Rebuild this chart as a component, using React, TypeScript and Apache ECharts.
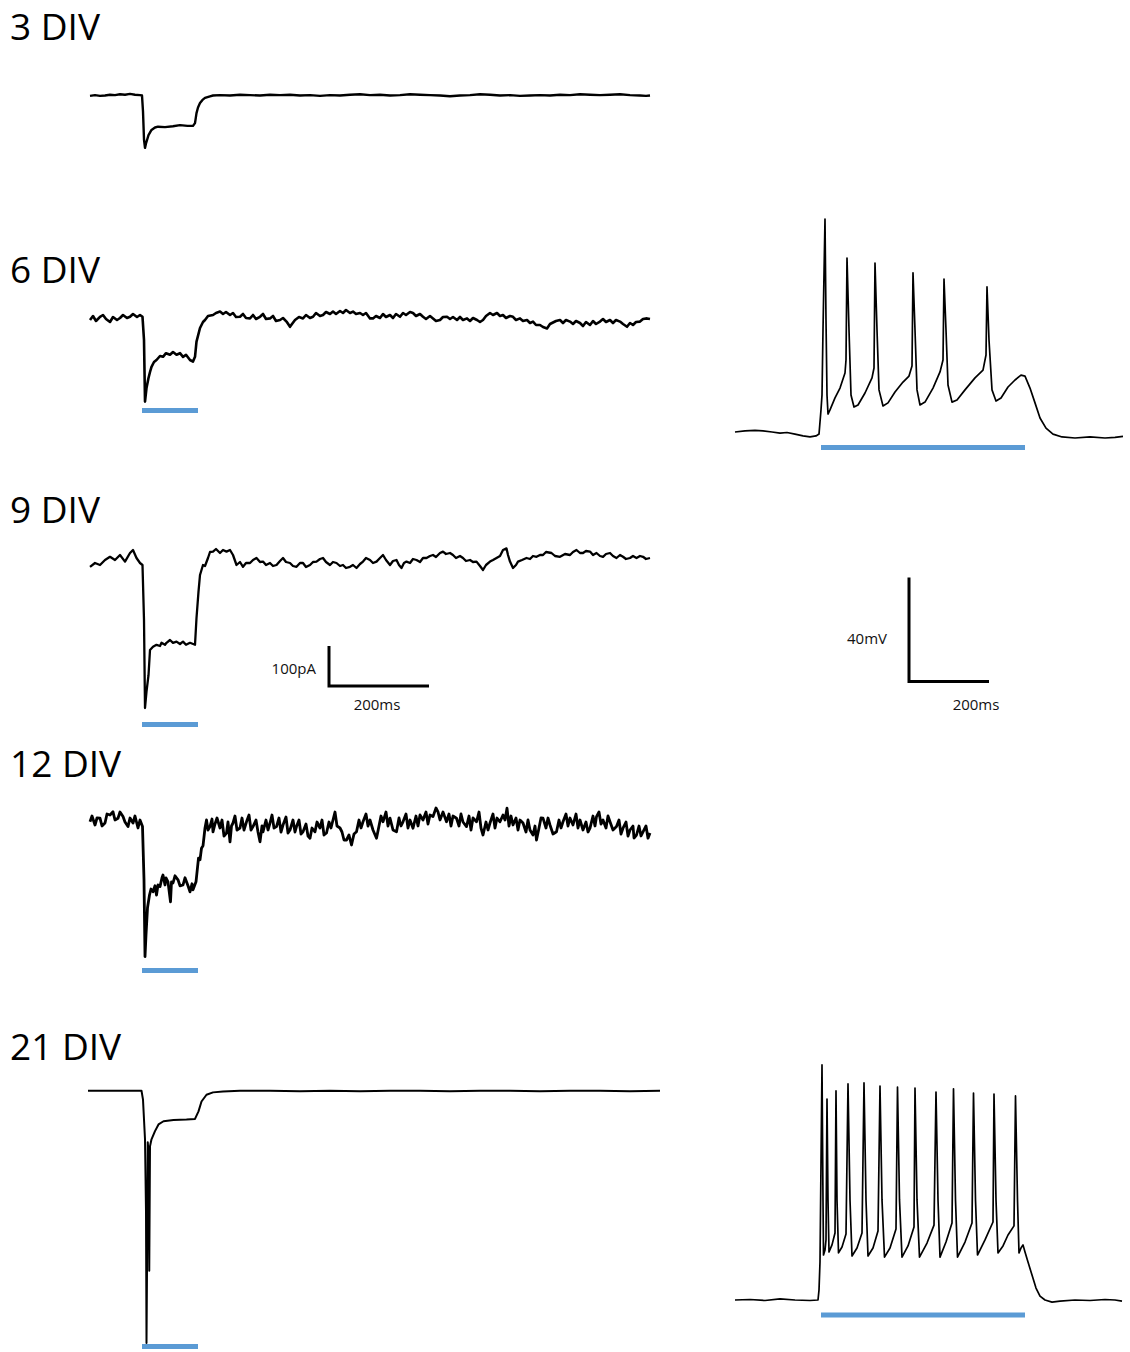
import React, { useEffect, useRef } from "react";
import * as echarts from "echarts";

// ---------- labels ----------
const divLabels = ["3 DIV", "6 DIV", "9 DIV", "12 DIV", "21 DIV"];
const currentScaleLabels = ["100pA", "200ms"];
const voltageScaleLabels = ["40mV", "200ms"];

// ---------- whole-cell currents: [time ms, current pA] ----------
const trace3DIV: number[][] = [
  [0, -1], [10, 1], [20, -1], [30, 0], [40, 2], [50, 1], [60, 3], [70, 2], [80, 4], [90, 2], [100, 1], [104, 0],
  [106, -40], [108, -110], [110, -131], [112, -120], [117, -99], [123, -86], [130, -80], [136, -78], [150, -79],
  [166, -77], [180, -74], [195, -76], [206, -76], [210, -69], [213, -44], [216, -30], [220, -19], [225, -11],
  [230, -6], [240, -2], [246, 0], [260, 1], [280, 0], [300, 2], [320, 1], [340, 0], [360, 2], [380, 1], [400, 2],
  [420, 0], [440, 1], [460, -1], [480, 1], [500, 0], [520, 2], [540, 3], [560, 1], [580, 2], [600, 0], [620, 1],
  [640, 3], [660, 2], [680, 1], [700, 0], [720, -2], [740, 0], [760, 1], [780, 3], [800, 2], [820, 0], [840, 1],
  [860, -1], [880, 0], [900, 1], [920, 0], [940, 2], [960, 1], [980, 3], [1000, 2], [1020, 1], [1040, 2],
  [1060, 3], [1080, 1], [1100, 0], [1112, -1], [1120, 0],
];

const trace6DIV: number[][] = [
  [0, -5], [6, 5], [12, -7.5], [20, 3], [26, 7.5], [32, -2.5], [40, -10], [46, 2.5], [54, -5], [60, 0], [66, 7.5],
  [74, 0], [80, 3], [86, 10], [94, 2.5], [100, 7.5], [105, 3],
  [108, -55], [110, -209], [113, -175], [117, -150], [120, -135], [123, -122], [128, -110], [133, -105],
  [140, -95], [146, -97], [152, -88], [160, -92], [166, -85], [173, -92], [180, -88], [186, -97], [192, -92],
  [200, -105], [206, -109], [210, -97], [213, -59], [220, -25], [226, -10], [230, -5], [236, 5], [246, 7.5],
  [252, 12.5], [260, 16], [266, 10], [272, 15], [280, 7.5], [286, 12.5], [292, 2.5], [300, 3], [306, 10],
  [312, 0], [320, -1], [326, 7.5], [332, -2.5], [340, 3], [346, 10], [352, -2.5], [360, -1], [366, 5],
  [372, -7.5], [380, -5], [386, 0], [393, -9], [400, -22], [404, -15], [410, -5], [418, 2.5], [426, -1],
  [432, 7.5], [440, 0], [446, 3], [452, 12.5], [460, 5], [466, 7.5], [472, 15], [480, 10], [486, 16], [492, 10],
  [500, 17.5], [506, 12.5], [512, 20], [520, 12.5], [526, 16], [532, 10], [540, 12.5], [546, 7.5], [552, 12.5],
  [560, -1], [566, -1], [572, 5], [580, 0], [586, 10], [592, 2.5], [600, 7.5], [606, 0], [612, 10], [620, 3],
  [626, 12.5], [632, 7.5], [640, 15], [646, 12.5], [652, 5], [660, 10], [666, 3], [672, -2.5], [680, 5],
  [686, -1], [692, -7.5], [700, -5], [706, 2.5], [714, 3], [720, -2.5], [726, 2.5], [734, -5], [740, 2.5],
  [746, -5], [754, -1], [760, -7.5], [766, 0], [774, -5], [780, -10], [786, -5], [792, 5], [800, 12.5],
  [806, 7.5], [814, 12.5], [820, 5], [826, 7.5], [832, 0], [840, 5], [846, 3], [852, -5], [860, -1], [866, -7.5],
  [874, -5], [880, -12.5], [886, -9], [892, -17.5], [900, -17.5], [906, -22.5], [914, -26], [920, -15],
  [924, -12.5], [932, -7.5], [940, -5], [946, -12.5], [952, -5], [960, -9], [966, -15], [972, -7.5],
  [980, -12.5], [986, -20], [992, -10], [1000, -17.5], [1006, -7.5], [1012, -15], [1020, -9], [1026, -2.5],
  [1032, -10], [1040, -5], [1046, -12.5], [1052, -5], [1060, -9], [1066, -15], [1074, -22], [1080, -12.5],
  [1086, -17.5], [1092, -10], [1100, -9], [1106, -2.5], [1114, -1], [1120, -2.5],
];

const trace9DIV: number[][] = [
  [0, -17], [10, -7.5], [20, -12.5], [30, 0], [40, 8], [50, 0], [60, 12.5], [70, -4], [80, 17.5], [86, 25],
  [93, 5], [100, -7.5], [105, -12.5],
  [108, -150], [110, -370], [113, -329], [117, -288], [120, -225], [126, -217], [133, -212], [140, -215],
  [143, -207], [150, -212], [153, -207], [160, -200], [166, -207], [173, -204], [180, -210], [186, -204],
  [192, -212], [200, -207], [210, -212], [213, -145], [217, -79], [220, -37.5], [226, -12.5], [230, -15],
  [236, 5], [240, 20], [246, 21], [252, 27.5], [260, 17.5], [266, 25], [273, 21], [280, 25], [286, 12.5],
  [293, -12.5], [300, -5], [306, -17], [312, -7.5], [320, -7.5], [326, 0], [333, 5], [340, -5], [346, -4],
  [352, -12.5], [360, -7.5], [366, -15], [373, -12.5], [380, -2.5], [386, 5], [392, -5], [400, -7.5],
  [406, -15], [413, -17], [420, -7.5], [426, -7.5], [432, -17.5], [440, -12.5], [446, -5], [453, -4],
  [460, 2.5], [466, 5], [472, -5], [480, -12.5], [486, -5], [493, -7.5], [500, -15], [506, -12.5], [512, -20],
  [520, -17], [526, -12.5], [533, -20], [540, -10], [546, -4], [552, 5], [560, 0], [566, -7.5], [573, -4],
  [580, 5], [586, 12.5], [592, 0], [600, -12.5], [606, -2.5], [613, 0], [618, -12.5], [623, -20], [628, -7.5],
  [633, -4], [640, -7.5], [646, 2.5], [653, 0], [660, -5], [666, 5], [673, 5], [680, 10], [686, 12.5],
  [692, 7.5], [700, 17.5], [706, 21], [712, 15], [720, 17.5], [726, 12.5], [732, 5], [740, 10], [746, 5],
  [752, -2.5], [760, 0], [766, -5], [773, -4], [780, -15], [786, -25], [792, -12.5], [800, -4], [806, 0],
  [813, 5], [820, 10], [826, 25], [833, 29], [836, 12.5], [840, -4], [846, -20], [852, -12.5], [856, -4],
  [864, 0], [873, 5], [880, 2.5], [886, 10], [893, 8], [900, 12.5], [906, 12.5], [912, 20], [923, 17.5],
  [930, 10], [940, 8], [950, 15], [960, 12.5], [966, 20], [973, 25], [980, 17.5], [986, 17.5], [992, 22.5],
  [1000, 21], [1006, 12.5], [1013, 17.5], [1020, 10], [1026, 8], [1032, 15], [1040, 17.5], [1046, 10],
  [1053, 5], [1060, 12.5], [1066, 8], [1072, 2.5], [1080, 5], [1086, 10], [1093, 5], [1100, 10], [1106, 8],
  [1112, 2.5], [1120, 5],
];

const trace12DIV: number[][] = [
  [0, 3], [4, 17.5], [10, -5], [14, 12.5], [20, 12], [24, -7.5], [30, 0], [34, 22.5], [40, 20], [46, 28],
  [50, 7.5], [56, 12], [60, 27.5], [66, 16], [70, 2.5], [76, -9], [80, 12.5], [86, 0], [90, 17.5], [96, -12.5],
  [100, 7.5], [105, -9],
  [108, -142], [110, -334], [112, -280], [115, -212], [119, -180], [122, -165], [126, -172], [130, -157],
  [133, -180], [136, -155], [140, -159], [144, -137], [146, -130], [150, -155], [152, -137], [156, -147],
  [161, -197], [163, -147], [166, -150], [170, -132], [176, -142], [180, -157], [186, -155], [190, -137],
  [193, -147], [196, -157], [200, -172], [204, -152], [206, -167], [209, -157], [212, -147], [217, -88],
  [220, -92], [223, -63], [226, -57], [230, -12.5], [233, 7.5], [236, -17.5], [240, -9], [244, 10], [246, -22],
  [250, -2.5], [254, 12.5], [260, -12.5], [264, 7.5], [268, -32.5], [273, -25], [276, 2.5], [280, -47],
  [283, -7.5], [286, 0], [290, 17.5], [294, -17.5], [300, -12.5], [304, 12.5], [308, -17.5], [313, 3],
  [318, 20], [322, -17.5], [326, -9], [332, 7.5], [336, -22.5], [340, -47], [344, -7.5], [346, -22],
  [352, 7.5], [356, -17.5], [360, 0], [364, 20], [368, -12.5], [373, -9], [378, 12.5], [382, -22.5], [386, -5],
  [392, 15], [396, -25], [400, -17.5], [406, 7.5], [410, -22.5], [413, -9], [418, 7.5], [422, -27.5],
  [426, -22], [432, -2.5], [436, -32.5], [440, -38], [444, -12.5], [450, -22], [454, 2.5], [460, -12.5],
  [464, 7.5], [468, -30], [473, -25], [478, 2.5], [482, -12.5], [486, 7.5], [490, 27.5], [494, -7.5],
  [500, -12.5], [504, -22.5], [508, -42.5], [513, -42.5], [518, -30], [523, -55], [528, -27.5], [533, -22],
  [538, 7.5], [542, -12.5], [546, 3], [552, 22.5], [556, -7.5], [560, 7.5], [566, -17.5], [573, -38],
  [578, -7.5], [582, 17.5], [586, 3], [592, 27.5], [596, -7.5], [600, 12], [606, -17.5], [613, -22],
  [618, 12.5], [622, -7.5], [626, 3], [632, 22.5], [636, -12.5], [640, 7.5], [646, -13], [652, 17.5],
  [656, -7.5], [660, 20], [666, 7.5], [672, 27.5], [676, -2.5], [680, 20], [686, 16], [692, 37.5], [696, 28],
  [700, 7.5], [706, 27.5], [713, 3], [718, 22.5], [722, -7.5], [726, 17.5], [733, 12], [738, -7.5],
  [742, 22.5], [746, 2.5], [753, -9], [758, 17.5], [762, -17.5], [766, 12.5], [773, 3], [778, 27.5],
  [782, -12.5], [786, -30], [792, 2.5], [796, -17.5], [800, 0], [806, 22.5], [810, -12.5], [814, 12.5],
  [820, 3], [826, 20], [830, 7.5], [834, 37], [838, -7.5], [842, 17.5], [846, -5], [852, 12.5], [856, -17.5],
  [860, 7.5], [866, 0], [872, -22.5], [876, 7.5], [880, -17.5], [886, -30], [890, -7.5], [893, -42.5],
  [898, -12.5], [902, 12.5], [906, 12], [912, -12.5], [916, 12.5], [920, -5], [926, -27.5], [933, -22],
  [938, 7.5], [942, -12.5], [946, 3], [952, 22.5], [956, -7.5], [960, 12.5], [966, -5], [972, 22.5],
  [976, -12.5], [980, 7.5], [986, -17.5], [992, 2.5], [996, -22.5], [1000, -13], [1006, 17.5], [1010, -7.5],
  [1013, 16], [1018, 27.5], [1022, -2.5], [1026, 7.5], [1032, -12.5], [1036, 17.5], [1040, 3], [1046, -17.5],
  [1053, -9], [1058, 7.5], [1062, -27.5], [1066, -13], [1072, 2.5], [1076, -32.5], [1080, -17.5], [1086, -7.5],
  [1088, -37.5], [1093, -30], [1098, -7.5], [1102, -32.5], [1106, -22], [1112, -7.5], [1116, -38], [1120, -25],
];

const trace21DIV: number[][] = [
  [-4, 0], [20, 0], [60, 0], [103, 0], [106, -22.5], [110, -122.5], [112, -305], [113, -637], [115, -272],
  [115.5, -130], [117.5, -165], [118.5, -455], [120, -140], [123, -122.5], [130, -102], [137, -85], [147, -77],
  [167, -74], [193, -72.5], [210, -71], [217, -52], [223, -27], [233, -10], [246, -4], [266, -2], [300, 0],
  [360, 0], [420, -1], [480, 0], [540, -1], [600, 0], [660, 0], [720, -1], [780, 0], [840, 0], [900, -1],
  [960, 0], [1020, 0], [1080, -1], [1140, 0],
];

// ---------- current-clamp voltage: [time ms, Vm mV] ----------
const voltage6DIV: number[][] = [
  [0, -65], [25, -64.6], [50, -64.4], [70, -64.6], [92.5, -65], [112.5, -65.4], [130, -65.2], [150, -65.8],
  [170, -66.5], [187.5, -66.9], [202.5, -66.5], [210, -65.8], [215, -56.5], [217.5, -50.8], [220, -25.8],
  [225, 16.9], [227.5, -21.9], [230, -50.8], [232.5, -58.1], [237.5, -56.5], [250, -51.9], [262.5, -48.1],
  [275, -42.3], [277.5, -37.3], [280, 1.9], [285, -25.8], [290, -50.8], [297.5, -55.4], [307.5, -54.6],
  [325, -50], [342.5, -44.2], [347.5, -40.4], [350, 0], [355, -25.8], [360, -48.8], [370, -55], [382.5, -53.8],
  [400, -49.6], [420, -45.8], [435, -43.5], [442.5, -39.6], [445, -3.8], [450, -25.8], [455, -48.8],
  [462.5, -54.6], [475, -53.5], [495, -48.1], [512.5, -41.9], [520, -37.3], [522.5, -6.2], [527.5, -25.8],
  [532.5, -46.9], [542.5, -53.5], [555, -52.7], [575, -48.8], [600, -44.2], [620, -41.2], [627.5, -35.4],
  [630, -9.2], [635, -29.6], [642.5, -48.8], [652.5, -53.1], [665, -51.9], [682.5, -47.7], [700, -45],
  [715, -43.1], [725, -43.5], [737.5, -48.1], [750, -53.8], [762.5, -59.6], [777.5, -63.5], [795, -65.8],
  [817.5, -66.9], [850, -67.3], [887.5, -66.9], [925, -67.3], [950, -67.1], [970, -66.7],
];

const voltage21DIV: number[][] = [
  [0, -65], [37.5, -64.8], [75, -65.2], [112.5, -64.6], [150, -65], [187.5, -65.2], [207.5, -65],
  [210, -61.2], [212.5, -50.4], [217.5, 25.4], [220, -26.9], [221.25, -47.7], [225, -45.8], [227.5, -41.9],
  [230, 12.3], [232.5, -26.5], [235, -46.5], [242.5, -43.8], [250, -39.2], [252.5, 15.4], [255, -26.5],
  [258.75, -46.9], [267.5, -44.6], [277.5, -39.6], [282.5, 18.1], [287.5, -26.5], [292.5, -48.1], [305, -45],
  [317.5, -39.2], [322.5, 18.5], [327.5, -26.5], [332.5, -48.1], [345, -45], [357.5, -38.5], [362.5, 17.3],
  [367.5, -26.5], [373.75, -48.5], [387.5, -45], [402.5, -37.7], [406.25, 16.9], [411.25, -26.5],
  [417.5, -48.5], [432.5, -44.2], [447.5, -36.9], [450, 16.5], [455, -26.5], [461.25, -48.5], [480, -43.1],
  [497.5, -36.2], [502.5, 15], [507.5, -26.5], [512.5, -48.5], [527.5, -42.7], [542.5, -35.4], [546.25, 16.2],
  [551.25, -26.5], [556.25, -48.5], [575, -42.7], [592.5, -35.4], [596.25, 14.6], [601.25, -26.5],
  [606.25, -47.7], [625, -41.9], [645, -35], [647.5, 14.2], [652.5, -26.5], [657.5, -46.9], [670, -44.2],
  [682.5, -40], [697.5, -36.5], [701.25, 13.5], [706.25, -26.5], [710, -46.9], [715, -45], [720, -43.8],
  [725, -46.5], [732.5, -50.4], [742.5, -55.4], [752.5, -60.4], [762.5, -63.5], [775, -65], [792.5, -65.8],
  [812.5, -65.4], [850, -65], [887.5, -65.2], [925, -64.8], [950, -65], [967.5, -65.4],
];

// light stimulus windows (ms) and scale-bar sizes
const lightCurrent = [104, 216];
const lightVoltage = [215, 725];
const scaleCurrent = [100, 200]; // pA, ms
const scaleVoltage = [40, 200]; // mV, ms

// ---------- layout ----------
const PX_PER_PA = 0.4;
const PX_PER_MV = 2.6;
const BLUE = "#5B9BD5";
const FONT = "Open Sans";

const currentPanels = [
  { data: trace3DIV, top: 75.5, min: -150, max: 50, light: null as number | null, width: 2.4 },
  { data: trace6DIV, top: 298, min: -250, max: 50, light: -231, width: 2.6 },
  { data: trace9DIV, top: 540, min: -450, max: 50, light: -411, width: 2.3 },
  { data: trace12DIV, top: 803, min: -400, max: 50, light: -369, width: 2.8 },
  { data: trace21DIV, top: 1071, min: -660, max: 50, light: -646, width: 2 },
];
const voltagePanels = [
  { data: voltage6DIV as number[][] | null, top: 198, min: -75, max: 25, light: -71 as number | null },
  { data: voltage21DIV as number[][] | null, top: 1053, min: -75, max: 30, light: -70.8 as number | null },
  { data: null, top: 577.5, min: 0, max: 50, light: null }, // scale-bar frame
];
const labelY = [25, 268, 508, 762, 1045];

function buildOption() {
  const grid: any[] = [];
  const xAxis: any[] = [];
  const yAxis: any[] = [];
  const series: any[] = [];
  let gi = 0;

  currentPanels.forEach((p) => {
    grid.push({ left: 80, top: p.top, width: 600, height: (p.max - p.min) * PX_PER_PA });
    xAxis.push({ gridIndex: gi, type: "value", min: -20, max: 1180, show: false });
    yAxis.push({ gridIndex: gi, type: "value", min: p.min, max: p.max, show: false });
    series.push({
      type: "line", xAxisIndex: gi, yAxisIndex: gi, data: p.data, symbol: "none", showSymbol: false,
      silent: true, lineStyle: { color: "#000", width: p.width, join: "round" }, z: 3,
    });
    if (p.light !== null) {
      series.push({
        type: "line", xAxisIndex: gi, yAxisIndex: gi, symbol: "none", silent: true,
        data: [[lightCurrent[0], p.light], [lightCurrent[1], p.light]],
        lineStyle: { color: BLUE, width: 5, cap: "butt" }, z: 2,
      });
    }
    gi++;
  });
  // current scale bar in the 9 DIV frame
  const cIdx = 2;
  const c0t = 478, c0i = -315;
  series.push({
    type: "line", xAxisIndex: cIdx, yAxisIndex: cIdx, symbol: "none", silent: true,
    data: [[c0t, c0i + scaleCurrent[0]], [c0t, c0i], [c0t + scaleCurrent[1], c0i]],
    lineStyle: { color: "#000", width: 3, join: "miter", cap: "butt" }, z: 3,
  });

  voltagePanels.forEach((p, k) => {
    // 395 px wide at 0.4 px/ms -> 987.5 ms
    grid.push({ left: 735, top: p.top, width: 395, height: (p.max - p.min) * PX_PER_MV });
    xAxis.push({ gridIndex: gi, type: "value", min: 0, max: 987.5, show: false });
    yAxis.push({ gridIndex: gi, type: "value", min: p.min, max: p.max, show: false });
    if (p.data) {
      series.push({
        type: "line", xAxisIndex: gi, yAxisIndex: gi, data: p.data, symbol: "none", showSymbol: false,
        silent: true, lineStyle: { color: "#000", width: 1.7, join: "round" }, z: 3,
      });
    }
    if (p.light !== null) {
      series.push({
        type: "line", xAxisIndex: gi, yAxisIndex: gi, symbol: "none", silent: true,
        data: [[lightVoltage[0], p.light], [lightVoltage[1], p.light]],
        lineStyle: { color: BLUE, width: 5, cap: "butt" }, z: 2,
      });
    }
    if (k === 2) {
      const v0t = 435, v0 = 10;
      series.push({
        type: "line", xAxisIndex: gi, yAxisIndex: gi, symbol: "none", silent: true,
        data: [[v0t, v0 + scaleVoltage[0]], [v0t, v0], [v0t + scaleVoltage[1], v0]],
        lineStyle: { color: "#000", width: 3, join: "miter", cap: "butt" }, z: 3,
      });
    }
    gi++;
  });

  const graphic: any[] = divLabels.map((t, i) => ({
    type: "text", x: 10, y: labelY[i], silent: true,
    style: { text: t, fontSize: 37, fontFamily: FONT, fill: "#000", align: "left", verticalAlign: "middle" },
  }));
  const small = (text: string, x: number, y: number, align: string) => ({
    type: "text", x, y, silent: true,
    style: { text, fontSize: 15, fontFamily: FONT, fill: "#111", align, verticalAlign: "middle" },
  });
  graphic.push(small(currentScaleLabels[0], 316, 668, "right"));
  graphic.push(small(currentScaleLabels[1], 377, 704, "center"));
  graphic.push(small(voltageScaleLabels[0], 887, 638, "right"));
  graphic.push(small(voltageScaleLabels[1], 976, 704, "center"));

  return { animation: false, backgroundColor: "#fff", grid, xAxis, yAxis, series, graphic };
}

export default function App() {
  const ref = useRef<HTMLDivElement>(null);
  useEffect(() => {
    if (!ref.current) return;
    const chart = echarts.init(ref.current, null, { renderer: "svg" });
    chart.setOption(buildOption() as any);
    return () => chart.dispose();
  }, []);
  return (
    <div
      ref={ref}
      style={{ position: "absolute", left: 0, top: 0, width: 1130, height: 1352, background: "#fff" }}
    />
  );
}
